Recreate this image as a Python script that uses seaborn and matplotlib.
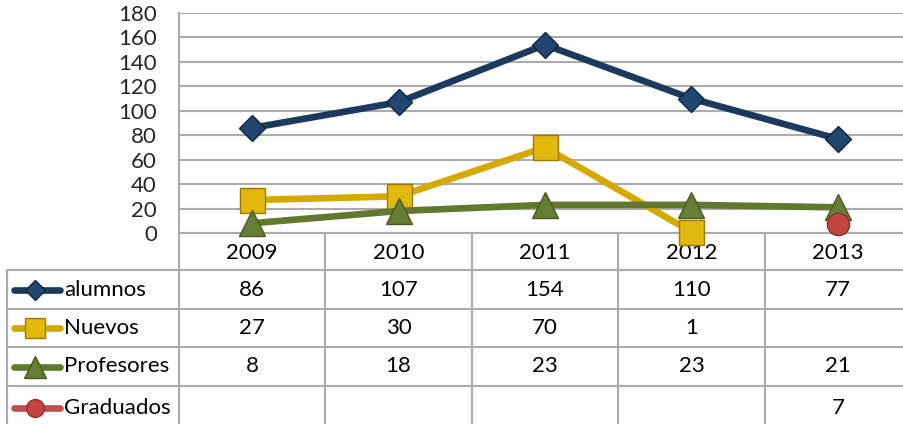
import numpy as np
import pandas as pd
import matplotlib
matplotlib.use("Agg")
import matplotlib.pyplot as plt
import seaborn as sns

years = ["2009", "2010", "2011", "2012", "2013"]
alumnos = [86, 107, 154, 110, 77]
nuevos = [27, 30, 70, 1, np.nan]
profesores = [8, 18, 23, 23, 21]
graduados = [np.nan, np.nan, np.nan, np.nan, 7]
series_names = ["alumnos", "Nuevos", "Profesores", "Graduados"]
y_ticks = [0, 20, 40, 60, 80, 100, 120, 140, 160, 180]

sns.set_theme(style="white")
plt.rcParams["font.family"] = ["Lato", "DejaVu Sans"]

W, H = 904, 424
FS = 16
fig = plt.figure(figsize=(W / 100, H / 100), dpi=100)

# pixel layout
left, right, top, bottom = 179, 911, 13, 233
ax = fig.add_axes([left / W, (H - bottom) / H, (right - left) / W, (bottom - top) / H])

styles = {
    "alumnos": dict(color="#1B3A5E", marker="D", ms=13, mec="#0F2440", mfc="#23466F"),
    "Nuevos": dict(color="#D4AA00", marker="s", ms=18, mec="#9A7B00", mfc="#E2B80E"),
    "Profesores": dict(color="#62782F", marker="^", ms=19, mec="#485A22", mfc="#667D35"),
    "Graduados": dict(color="#C0504D", marker="o", ms=16, mec="#8C2F2C", mfc="#C4453F"),
}
data = {"alumnos": alumnos, "Nuevos": nuevos, "Profesores": profesores, "Graduados": graduados}
xpos = np.arange(len(years))
LW = 4.8

for name in series_names:
    st = styles[name]
    df = pd.DataFrame({"x": xpos, "y": data[name]}).dropna()
    sns.lineplot(data=df, x="x", y="y", ax=ax, color=st["color"], linewidth=LW,
                 marker=st["marker"], markersize=st["ms"], markeredgecolor=st["mec"],
                 markerfacecolor=st["mfc"], markeredgewidth=1, clip_on=False, zorder=3)

ax.set_xlim(-0.5, len(years) - 0.5)
ax.set_ylim(0, 180)
ax.set_yticks(y_ticks)
ax.set_yticklabels([str(t) for t in y_ticks], fontsize=FS)
ax.set_xticks([])
ax.set_xlabel("")
ax.set_ylabel("")
ax.tick_params(axis="y", length=0, pad=16)
ax.grid(axis="y", color="#ABABAB", linewidth=1.5)
ax.set_axisbelow(True)
for s in ["top", "right", "bottom"]:
    ax.spines[s].set_visible(False)
ax.spines["left"].set_color("#ABABAB")
ax.spines["left"].set_linewidth(1.5)
ax.set_facecolor("none")

# table in pixel coordinates
bg = fig.add_axes([0, 0, 1, 1], zorder=-1)
bg.set_xlim(0, W)
bg.set_ylim(H, 0)
bg.axis("off")

gc = "#ABABAB"
band = (right - left) / len(years)
col_edges = [left + i * band for i in range(len(years) + 1)]
row_edges = [233, 270, 309, 347, 386, 430]

bg.plot([left, W], [233, 233], color=gc, lw=1.5)
for yy in row_edges[1:5]:
    bg.plot([7, W], [yy, yy], color=gc, lw=1.5)
for xx in col_edges[:-1]:
    bg.plot([xx, xx], [233, H], color=gc, lw=1.5)
bg.plot([7, 7], [270, H], color=gc, lw=1.5)

for i, yr in enumerate(years):
    bg.text((col_edges[i] + col_edges[i + 1]) / 2, 253, yr,
            ha="center", va="center", fontsize=FS, color="black")

for r, name in enumerate(series_names):
    yc = (row_edges[r + 1] + row_edges[r + 2]) / 2
    st = styles[name]
    bg.plot([14, 60], [yc, yc], color=st["color"], lw=LW, solid_capstyle="round")
    bg.plot([35], [yc], marker=st["marker"], ms=st["ms"] * 0.8, mec=st["mec"],
            mfc=st["mfc"], mew=1, ls="none")
    bg.text(64, yc, name, ha="left", va="center", fontsize=FS, color="black")
    for i, v in enumerate(data[name]):
        if not np.isnan(v):
            bg.text((col_edges[i] + col_edges[i + 1]) / 2, yc, f"{int(v)}",
                    ha="center", va="center", fontsize=FS, color="black")

fig.savefig("out.png", dpi=100)
